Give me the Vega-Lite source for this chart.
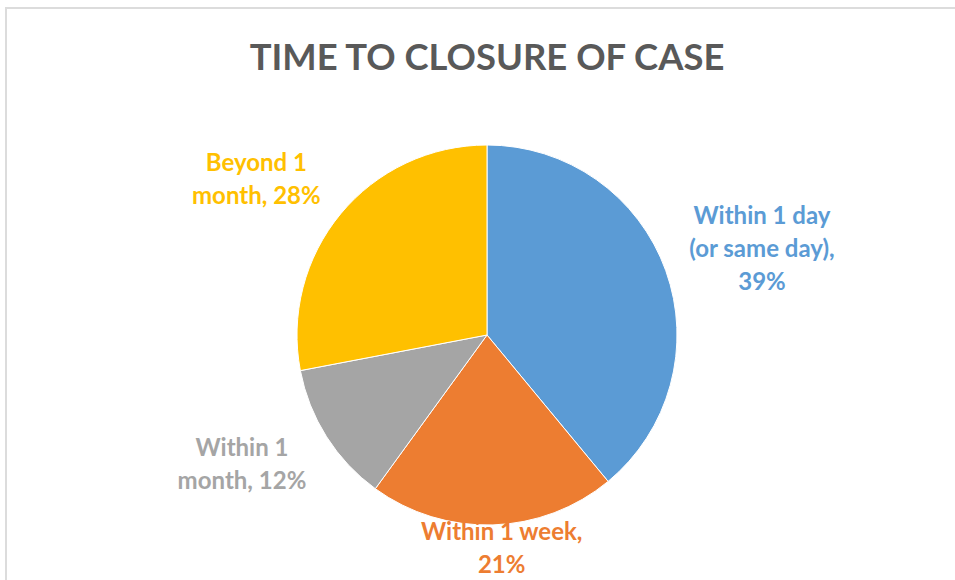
{
  "$schema": "https://vega.github.io/schema/vega-lite/v6.json",
  "width": 962,
  "height": 654,
  "autosize": {"type": "none"},
  "padding": {"left": 6, "top": 8, "right": 0, "bottom": 0},
  "background": "white",
  "view": {"stroke": "#dcdcdc", "strokeWidth": 2, "fill": "white"},
  "title": {
    "text": "TIME TO CLOSURE OF CASE",
    "font": "Lato",
    "fontSize": 36.4,
    "fontWeight": "bold",
    "color": "#595959",
    "anchor": "middle",
    "dy": 73
  },
  "data": {
    "values": [
      {"category": "Within 1 day", "rank": 1, "value": 39, "label": "Within 1 day|(or same day),|39%"},
      {"category": "Within 1 week", "rank": 2, "value": 21, "label": "Within 1 week,|21%"},
      {"category": "Within 1 month", "rank": 3, "value": 12, "label": "Within 1|month, 12%"},
      {"category": "Beyond 1 month", "rank": 4, "value": 28, "label": "Beyond 1|month, 28%"}
    ]
  },
  "encoding": {
    "theta": {"field": "value", "type": "quantitative", "stack": true},
    "order": {"field": "rank", "type": "quantitative"},
    "color": {
      "field": "category",
      "type": "nominal",
      "scale": {
        "domain": ["Within 1 day", "Within 1 week", "Within 1 month", "Beyond 1 month"],
        "range": ["#5B9BD5", "#ED7D31", "#A5A5A5", "#FFC000"]
      },
      "legend": null
    }
  },
  "layer": [
    {
      "mark": {"type": "arc", "outerRadius": 190, "stroke": "white", "strokeWidth": 1}
    },
    {
      "mark": {
        "type": "text",
        "font": "Lato",
        "fontSize": 24,
        "fontWeight": "bold",
        "lineBreak": "|",
        "lineHeight": 33,
        "align": "center",
        "baseline": "middle",
        "radius": {"expr": "datum.category === 'Within 1 week' ? 213 : (datum.category === 'Within 1 day' ? 288 : 276)"},
        "dx": {"expr": "datum.category === 'Within 1 day' ? 4 : (datum.category === 'Within 1 week' ? 8 : (datum.category === 'Within 1 month' ? -12 : -18))"},
        "dy": {"expr": "datum.category === 'Within 1 day' ? -20 : (datum.category === 'Within 1 week' ? -15 : (datum.category === 'Within 1 month' ? -34 : 5))"}
      },
      "encoding": {"text": {"field": "label", "type": "nominal"}}
    }
  ]
}
